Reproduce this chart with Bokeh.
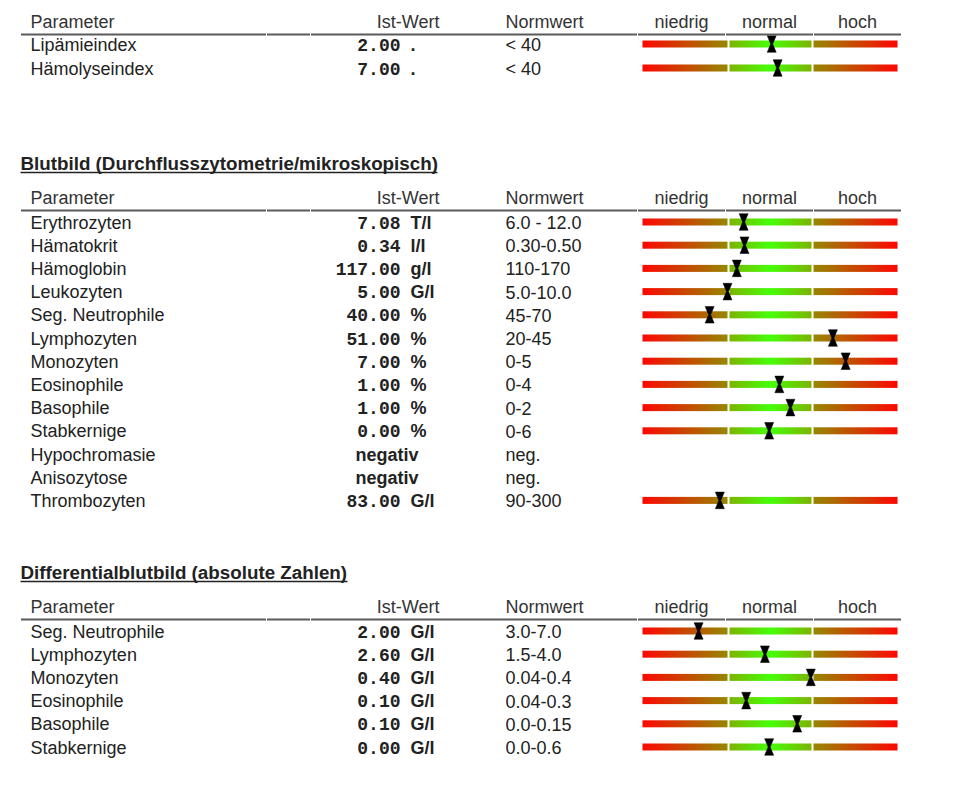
import numpy as np
from bokeh.plotting import figure
from bokeh.models import Range1d
from bokeh.core.properties import value
from bokeh.embed import file_html
from bokeh.resources import INLINE

# ---------------- data ----------------
header_labels = ["Parameter", "Ist-Wert", "Normwert", "niedrig", "normal", "hoch"]

s1_title = None
s1_params = ["Lipämieindex", "Hämolyseindex"]
s1_values = [2.00, 7.00]
s1_units = [".", "."]
s1_norms = ["< 40", "< 40"]
s1_gauge = [1.52, 1.59]          # marker position on gauge: 0..1 low, 1..2 normal, 2..3 high

s2_title = "Blutbild (Durchflusszytometrie/mikroskopisch)"
s2_params = ["Erythrozyten", "Hämatokrit", "Hämoglobin", "Leukozyten", "Seg. Neutrophile",
             "Lymphozyten", "Monozyten", "Eosinophile", "Basophile", "Stabkernige",
             "Hypochromasie", "Anisozytose", "Thrombozyten"]
s2_values = [7.08, 0.34, 117.00, 5.00, 40.00, 51.00, 7.00, 1.00, 1.00, 0.00,
             "negativ", "negativ", 83.00]
s2_units = ["T/l", "l/l", "g/l", "G/l", "%", "%", "%", "%", "%", "%", "", "", "G/l"]
s2_norms = ["6.0 - 12.0", "0.30-0.50", "110-170", "5.0-10.0", "45-70", "20-45", "0-5",
            "0-4", "0-2", "0-6", "neg.", "neg.", "90-300"]
s2_gauge = [1.19, 1.20, 1.11, 1.00, 0.79, 2.24, 2.39, 1.61, 1.74, 1.49, None, None, 0.91]

s3_title = "Differentialblutbild (absolute Zahlen)"
s3_params = ["Seg. Neutrophile", "Lymphozyten", "Monozyten", "Eosinophile", "Basophile",
             "Stabkernige"]
s3_values = [2.00, 2.60, 0.40, 0.10, 0.10, 0.00]
s3_units = ["G/l", "G/l", "G/l", "G/l", "G/l", "G/l"]
s3_norms = ["3.0-7.0", "1.5-4.0", "0.04-0.4", "0.04-0.3", "0.0-0.15", "0.0-0.6"]
s3_gauge = [0.66, 1.44, 1.98, 1.22, 1.82, 1.49]

# ---------------- layout (page pixels) ----------------
W, H = 952, 780
SANS = value("Liberation Sans")
MONO = value("Liberation Mono")
FS = "18px"
FS_TITLE = "18.8px"
TXT = "#222222"
TXT_DY = -6   # text baseline correction

sections = [
    dict(title=s1_title, params=s1_params, values=s1_values, units=s1_units, norms=s1_norms,
         gauge=s1_gauge, tb=None, tend=None, hb=27, rb=50, step=24.0),
    dict(title=s2_title, params=s2_params, values=s2_values, units=s2_units, norms=s2_norms,
         gauge=s2_gauge, tb=169, tend=437, hb=203, rb=228, step=23.2),
    dict(title=s3_title, params=s3_params, values=s3_values, units=s3_units, norms=s3_norms,
         gauge=s3_gauge, tb=578, tend=347, hb=612, rb=637, step=23.2),
]

X_PARAM = 30
X_VAL_R = 400
X_NEG = 355
X_UNIT = 410
X_NORM = 505
X_IST_R = 439
col_edges = [20, 266, 310, 637, 725, 813, 901]
G0, GSCALE = 642.0, 85.0   # gauge unit 0 at px 642, 85 px per unit

p = figure(width=W, height=H, output_backend="svg", toolbar_location=None,
           x_range=Range1d(0, W), y_range=Range1d(H, 0),
           x_axis_type=None, y_axis_type=None, min_border=0)
p.grid.visible = False
p.outline_line_color = None
p.background_fill_color = "white"
p.border_fill_color = "white"
p.extra_x_ranges = {"gauge": Range1d((0 - G0) / GSCALE, (W - G0) / GSCALE)}

# gradient image for the gauge (style)
N = 255
img = np.zeros((1, N), dtype=np.uint32)
view = img.view(dtype=np.uint8).reshape((1, N, 4))


def lerp(c1, c2, t):
    return [int(round(a + (b - a) * t)) for a, b in zip(c1, c2)]


RED = (252, 8, 0)
OLIVE = (150, 135, 0)
GEDGE = (125, 180, 0)
GMID = (70, 255, 10)
for i in range(N):
    if i <= 84:
        c = lerp(RED, OLIVE, i / 84)
        a = 255
    elif i in (85, 86, 169, 170):
        c, a = (255, 255, 255), 0
    elif i <= 168:
        t = (i - 87) / (168 - 87)
        c = lerp(GEDGE, GMID, 1 - abs(2 * t - 1))
        a = 255
    else:
        c = lerp(OLIVE, RED, (i - 171) / (254 - 171))
        a = 255
    view[0, i, 0], view[0, i, 1], view[0, i, 2] = c
    view[0, i, 3] = a

txt = {k: dict(x=[], y=[], t=[]) for k in
       ["param", "hdr_l", "hdr_r", "hdr_c", "val", "neg", "unit", "norm", "title"]}


def add(k, x, y, t):
    txt[k]["x"].append(x)
    txt[k]["y"].append(y + TXT_DY)
    txt[k]["t"].append(t)


rule_x0, rule_x1, rule_y = [], [], []
ul_x0, ul_x1, ul_y = [], [], []
bar_y, mk_xs, mk_ys = [], [], []

for s in sections:
    if s["title"]:
        add("title", 20, s["tb"], s["title"])
        ul_x0.append(20)
        ul_x1.append(s["tend"])
        ul_y.append(s["tb"] + 3)
    hb = s["hb"]
    add("hdr_l", X_PARAM, hb, header_labels[0])
    add("hdr_r", X_IST_R, hb, header_labels[1])
    add("hdr_l", X_NORM, hb, header_labels[2])
    for j, lab in enumerate(header_labels[3:]):
        add("hdr_c", (col_edges[3 + j] + col_edges[4 + j]) / 2, hb, lab)
    for a, b in zip(col_edges[:-1], col_edges[1:]):
        rule_x0.append(a + 0.5)
        rule_x1.append(b - 0.5)
        rule_y.append(hb + 7)
    for r, prm in enumerate(s["params"]):
        yb = s["rb"] + r * s["step"]
        add("param", X_PARAM, yb, prm)
        v = s["values"][r]
        if isinstance(v, str):
            add("neg", X_NEG, yb, v)
        else:
            add("val", X_VAL_R, yb, f"{v:.2f}")
        if s["units"][r]:
            add("unit", X_UNIT, yb, s["units"][r])
        add("norm", X_NORM, yb, s["norms"][r])
        g = s["gauge"][r]
        if g is not None:
            yc = yb - 6.5
            bar_y.append(yc - 3.5)
            hw, hn, hh = 4.5 / GSCALE, 1.0 / GSCALE, 8.3
            mk_xs.append([g - hw, g + hw, g + hn, g + hw, g - hw, g - hn])
            mk_ys.append([yc - hh, yc - hh, yc, yc + hh, yc + hh, yc])

p.image_rgba(image=[img] * len(bar_y), x=[0] * len(bar_y), y=bar_y,
             dw=[3] * len(bar_y), dh=[7] * len(bar_y), x_range_name="gauge")
p.patches(xs=mk_xs, ys=mk_ys, fill_color="black", line_color="black", line_width=0.5,
          x_range_name="gauge")
p.segment(x0=rule_x0, y0=rule_y, x1=rule_x1, y1=rule_y, line_color="#5a5a5a", line_width=2)
p.segment(x0=ul_x0, y0=ul_y, x1=ul_x1, y1=ul_y, line_color=TXT, line_width=1.5)


def draw(k, font, style, align, color=TXT, size=FS):
    d = txt[k]
    if not d["t"]:
        return
    p.text(x=d["x"], y=d["y"], text=d["t"], text_font=font, text_font_style=style,
           text_font_size=size, text_align=align, text_baseline="alphabetic",
           text_color=color)


draw("title", SANS, "bold", "left", size=FS_TITLE)
draw("hdr_l", SANS, "normal", "left", "#333333")
draw("hdr_r", SANS, "normal", "right", "#333333")
draw("hdr_c", SANS, "normal", "center", "#333333")
draw("param", SANS, "normal", "left")
draw("val", MONO, "bold", "right")
draw("neg", SANS, "bold", "left")
draw("unit", SANS, "bold", "left")
draw("norm", SANS, "normal", "left")

open("out.html", "w").write(file_html(p, INLINE))
